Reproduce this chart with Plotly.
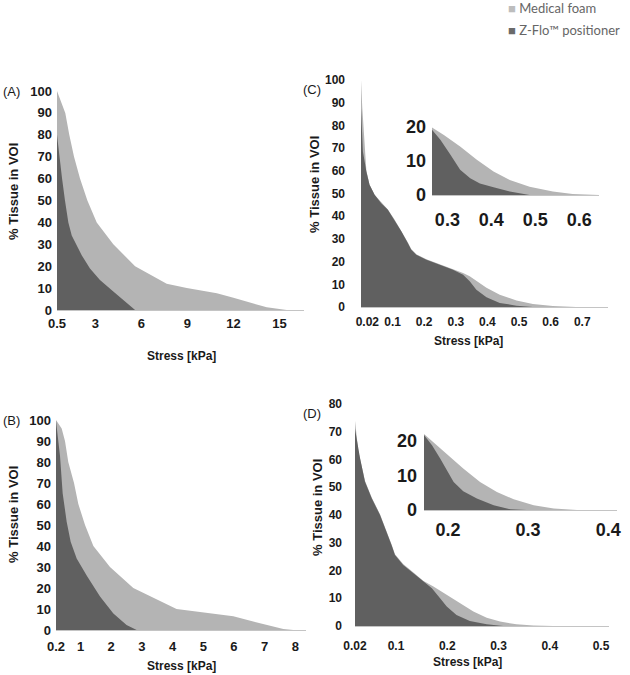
import plotly.graph_objects as go

# ---------------- data ----------------
# Panel A
a_foam_x = [0.5, 1.04, 1.3, 1.61, 2.0, 2.48, 3.09, 4.17, 5.59, 7.65, 8.96, 10.92, 12.0, 12.87, 14.17, 15.47, 16.6]
a_foam_y = [100, 90, 80, 70, 60, 50, 40, 30, 20, 12, 10, 7.6, 5.6, 3.8, 1.2, 0, 0]
a_zflo_x = [0.5, 0.65, 0.83, 1.02, 1.24, 1.46, 2.11, 2.65, 3.3, 4.17, 5.05, 5.59]
a_zflo_y = [80, 70, 60, 50, 40, 34, 25, 19, 13.7, 8.4, 3, 0]

# Panel B
b_foam_x = [0.2, 0.385, 0.493, 0.6, 0.787, 0.928, 1.146, 1.418, 1.96, 2.72, 4.13, 5.11, 5.98, 6.63, 7.07, 7.61, 7.94, 8.35]
b_foam_y = [100, 96, 90, 80, 70, 60, 50, 40, 30, 20, 10, 8, 6.5, 4, 2.5, 0.5, 0, 0]
b_zflo_x = [0.2, 0.33, 0.418, 0.548, 0.678, 0.874, 1.2, 1.635, 2.07, 2.5, 2.83]
b_zflo_y = [99.5, 83, 65, 51.6, 42, 34, 26, 15.9, 7.9, 2.4, 0]

# Panel C
c_foam_x = [0, 0.004, 0.017, 0.027, 0.043, 0.064, 0.085, 0.106, 0.128, 0.148, 0.159, 0.175, 0.207,
            0.249, 0.291, 0.323, 0.344, 0.365, 0.397, 0.439, 0.492, 0.544, 0.607, 0.681, 0.78]
c_foam_y = [100, 88, 60, 54, 49.5, 46, 43, 38.5, 33.5, 28.5, 25.5, 23.2, 21,
            18.8, 16.8, 15.0, 13.5, 11.5, 8.5, 5.4, 2.9, 1.3, 0.4, 0, 0]
c_zflo_x = [0, 0.006, 0.017, 0.027, 0.043, 0.064, 0.085, 0.106, 0.128, 0.148, 0.159, 0.175, 0.207,
            0.249, 0.291, 0.323, 0.344, 0.365, 0.397, 0.439, 0.492, 0.544]
c_zflo_y = [87.5, 68.5, 59.7, 53.8, 49.4, 45.7, 42.8, 38.4, 33.3, 28.2, 25.2, 23.0, 20.8,
            18.6, 16.4, 14.2, 11.3, 7.6, 4.3, 1.8, 0.6, 0]

# Panel C inset
ci_foam_x = [0.265, 0.292, 0.329, 0.367, 0.405, 0.442, 0.487, 0.54, 0.585, 0.645]
ci_foam_y = [19.8, 17.6, 14.2, 10.3, 6.9, 4.4, 2.4, 1.0, 0.3, 0]
ci_zflo_x = [0.265, 0.284, 0.307, 0.329, 0.352, 0.374, 0.405, 0.442, 0.487]
ci_zflo_y = [19.1, 16.2, 11.8, 7.4, 4.9, 3.4, 2.3, 1.0, 0]

# Panel D
d_foam_x = [0.02, 0.0265, 0.0395, 0.0526, 0.0688, 0.0818, 0.0916, 0.098, 0.114, 0.134, 0.153, 0.173,
            0.199, 0.225, 0.251, 0.277, 0.303, 0.335, 0.368, 0.407, 0.515]
d_foam_y = [74, 63, 52.3, 46.3, 40.3, 34.3, 29.3, 25.9, 22.3, 19.3, 16.3, 14.2,
            11.2, 8.2, 5.2, 3, 1.6, 0.6, 0.2, 0, 0]
d_zflo_x = [0.02, 0.0298, 0.0395, 0.0526, 0.0688, 0.0818, 0.0916, 0.098, 0.114, 0.134, 0.153, 0.17,
            0.186, 0.199, 0.218, 0.244, 0.277, 0.309]
d_zflo_y = [71, 60.5, 52, 46, 40, 34, 29, 25.6, 22, 19, 16, 13.6, 10, 7, 4, 1.8, 0.6, 0]

# Panel D inset
di_foam_x = [0.17, 0.186, 0.2025, 0.219, 0.24, 0.261, 0.282, 0.307, 0.332, 0.361, 0.411]
di_foam_y = [21.9, 18.7, 15.4, 12.0, 8.1, 5.2, 3.1, 1.4, 0.4, 0, 0]
di_zflo_x = [0.17, 0.18, 0.19, 0.198, 0.207, 0.219, 0.236, 0.257, 0.278, 0.298]
di_zflo_y = [21.6, 18.7, 14.9, 11.5, 8.1, 5.4, 3.3, 1.4, 0.2, 0]

a_ticks = [0.5, 3, 6, 9, 12, 15]
b_ticks = [0.2, 1, 2, 3, 4, 5, 6, 7, 8]
c_ticks = [0.02, 0.1, 0.2, 0.3, 0.4, 0.5, 0.6, 0.7]
d_ticks = [0.02, 0.1, 0.2, 0.3, 0.4, 0.5]
ci_ticks = [0.3, 0.4, 0.5, 0.6]
di_ticks = [0.2, 0.3, 0.4]

series_names = ["Medical foam", "Z-Flo\u2122 positioner"]
panel_labels = ["(A)", "(B)", "(C)", "(D)"]
y_title = "% Tissue in VOI"
x_title = "Stress [kPa]"

# ---------------- style ----------------
W, H = 630, 675
LIGHT = "#b4b4b4"
DARK = "#606060"
AXLINE = "#c4c4c4"
FONT = "Liberation Sans, Arial, sans-serif"

def px(x):
    return x / W

def py(y):
    return 1 - y / H

fig = go.Figure()

panels = [
    (a_foam_x, a_foam_y, a_zflo_x, a_zflo_y, "x", "y"),
    (b_foam_x, b_foam_y, b_zflo_x, b_zflo_y, "x2", "y2"),
    (c_foam_x, c_foam_y, c_zflo_x, c_zflo_y, "x3", "y3"),
    (d_foam_x, d_foam_y, d_zflo_x, d_zflo_y, "x4", "y4"),
    (ci_foam_x, ci_foam_y, ci_zflo_x, ci_zflo_y, "x5", "y5"),
    (di_foam_x, di_foam_y, di_zflo_x, di_zflo_y, "x6", "y6"),
]
for fx, fy, zx, zy, xa, ya in panels:
    fig.add_trace(go.Scatter(x=fx, y=fy, mode="lines", fill="tozeroy", fillcolor=LIGHT,
                             line=dict(width=0, color=LIGHT), xaxis=xa, yaxis=ya,
                             name=series_names[0], showlegend=False, hoverinfo="skip"))
    fig.add_trace(go.Scatter(x=zx, y=zy, mode="lines", fill="tozeroy", fillcolor=DARK,
                             line=dict(width=0, color=DARK), xaxis=xa, yaxis=ya,
                             name=series_names[1], showlegend=False, hoverinfo="skip"))

def xaxis(dom, rng, ticks, anchor, size=13, standoff=3):
    return dict(domain=[px(dom[0]), px(dom[1])], range=rng, tickvals=ticks,
                ticktext=[str(t) for t in ticks], anchor=anchor, showgrid=False,
                zeroline=False, showline=True, linecolor=AXLINE, linewidth=1,
                ticks="", ticklabelstandoff=standoff, automargin=False,
                tickfont=dict(family=FONT, size=size, color="#1a1a1a", weight="bold"))

def yaxis(dom, rng, dtick, anchor, size=13, standoff=4, tickvals=None):
    d = dict(domain=[py(dom[0]), py(dom[1])], range=rng, anchor=anchor, showgrid=False,
             zeroline=False, showline=False, ticks="", ticklabelstandoff=standoff,
             automargin=False,
             tickfont=dict(family=FONT, size=size, color="#1a1a1a", weight="bold"))
    if tickvals is not None:
        d["tickvals"] = tickvals
    else:
        d["dtick"] = dtick
    return d

fig.update_layout(
    template="none",
    width=W, height=H, margin=dict(l=0, r=0, t=0, b=0, pad=0, autoexpand=False),
    paper_bgcolor="white", plot_bgcolor="rgba(0,0,0,0)", showlegend=False,
    xaxis=xaxis((57, 304), [0.5, 16.6], a_ticks, "y", standoff=1),
    yaxis=yaxis((310, 91), [0, 100], 10, "x", standoff=4),
    xaxis2=xaxis((56, 306), [0.2, 8.35], b_ticks, "y2", standoff=4),
    yaxis2=yaxis((630, 420), [0, 100], 10, "x2", standoff=4),
    xaxis3=xaxis((361, 607.5), [0, 0.78], c_ticks, "y3", size=12, standoff=4),
    yaxis3=yaxis((307, 80), [0, 100], 10, "x3", size=12, standoff=15),
    xaxis4=xaxis((355, 608.7), [0.02, 0.515], d_ticks, "y4", size=12, standoff=9),
    yaxis4=yaxis((626, 404), [0, 80], 10, "x4", size=12, standoff=12),
    xaxis5=xaxis((432, 599), [0.265, 0.645], ci_ticks, "y5", size=18, standoff=8),
    yaxis5=yaxis((195, 125), [0, 20.5], None, "x5", size=18, standoff=5, tickvals=[0, 10, 20]),
    xaxis6=xaxis((424, 617), [0.17, 0.411], di_ticks, "y6", size=18, standoff=3),
    yaxis6=yaxis((510, 432), [0, 22.5], None, "x6", size=18, standoff=6, tickvals=[0, 10, 20]),
)

anns = []
# axis titles
for (xc, yc) in [(13, 192), (13, 515), (314, 185), (317, 508)]:
    anns.append(dict(x=px(xc), y=py(yc), xref="paper", yref="paper", text=y_title,
                     textangle=-90, showarrow=False, xanchor="center", yanchor="middle",
                     font=dict(family=FONT, size=13, color="#1a1a1a", weight="bold")))
for (xc, yc) in [(181, 356), (181, 666), (468, 341), (467, 662)]:
    anns.append(dict(x=px(xc), y=py(yc), xref="paper", yref="paper", text=x_title,
                     showarrow=False, xanchor="center", yanchor="middle",
                     font=dict(family=FONT, size=12, color="#1a1a1a", weight="bold")))
# panel letters
for lab, (xl, yc) in zip(panel_labels, [(1, 91), (1, 420), (301, 89), (301, 413)]):
    anns.append(dict(x=px(xl), y=py(yc), xref="paper", yref="paper", text=lab,
                     showarrow=False, xanchor="left", yanchor="middle",
                     font=dict(family=FONT, size=13, color="#1a1a1a")))
# legend
for name, col, yc in [(series_names[0], "#bdbdbd", 8), (series_names[1], "#6a6a6a", 30)]:
    anns.append(dict(x=px(506), y=py(yc), xref="paper", yref="paper",
                     text=f"<span style='color:{col}'>\u25a0</span> {name}",
                     showarrow=False, xanchor="left", yanchor="middle",
                     font=dict(family="Lato, Open Sans, sans-serif", size=13, color="#666666")))
fig.update_layout(annotations=anns)

fig.write_html("out.html", config={"displayModeBar": False},
               post_script="document.body.style.margin='0px';document.body.style.overflow='hidden';")
